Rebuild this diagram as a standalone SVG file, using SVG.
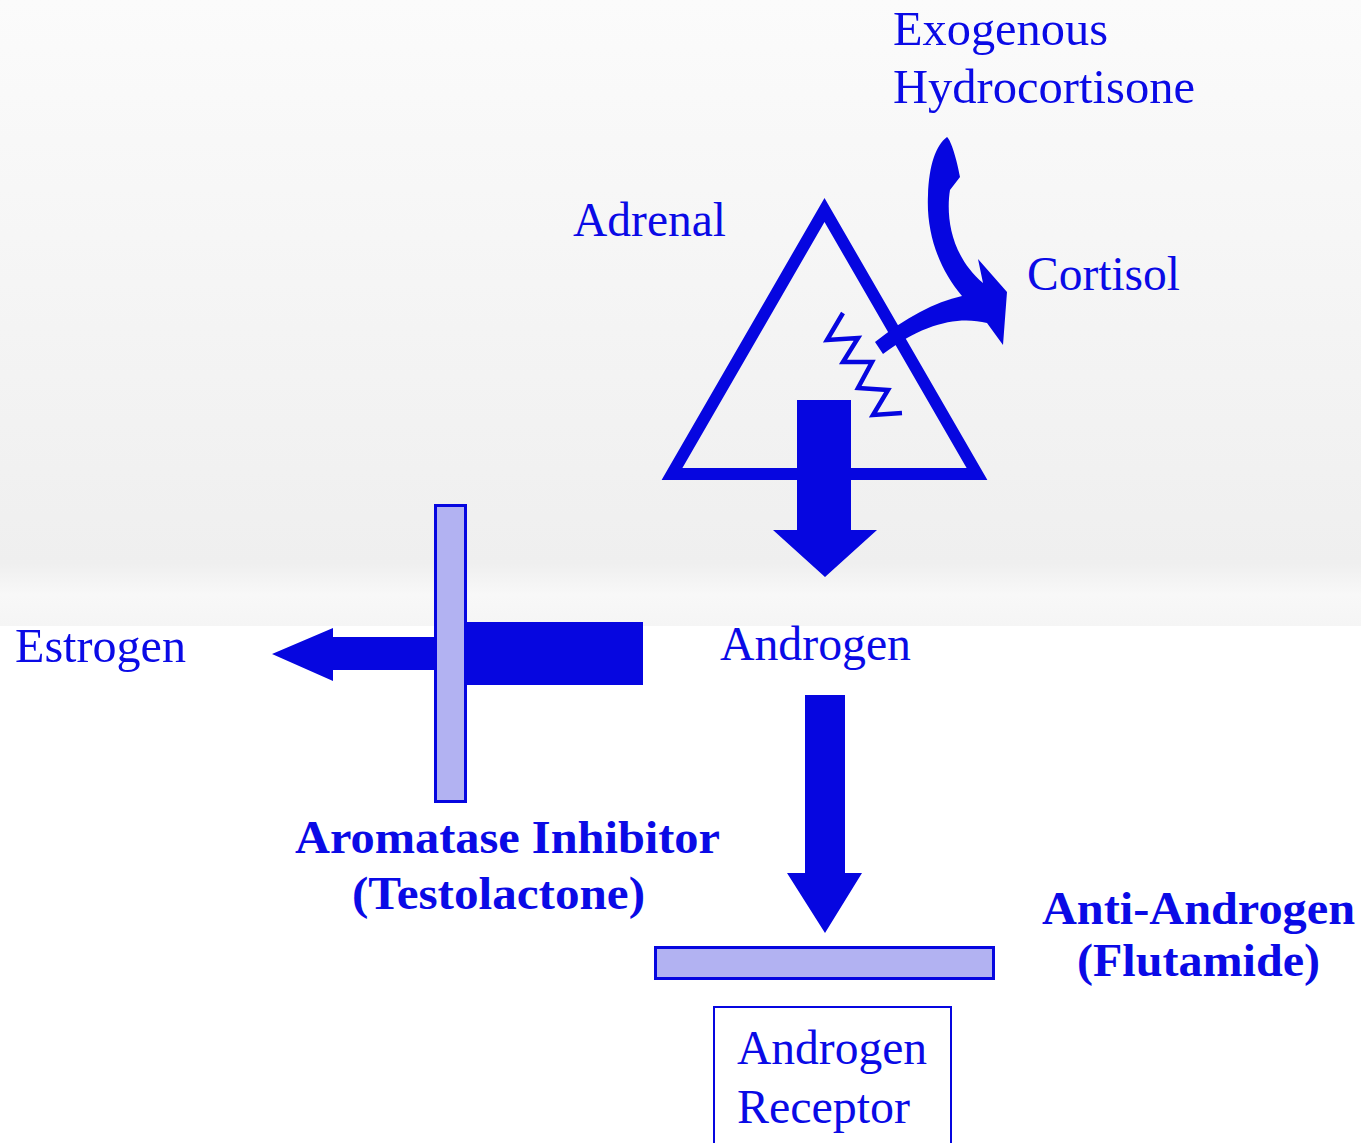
<svg xmlns="http://www.w3.org/2000/svg" width="1361" height="1143" viewBox="0 0 1361 1143">
<defs>
<linearGradient id="bg" x1="0" y1="0" x2="0" y2="1">
<stop offset="0" stop-color="#fbfbfb"/>
<stop offset="0.9" stop-color="#efefef"/>
<stop offset="0.95" stop-color="#f8f8f8"/>
<stop offset="1" stop-color="#f5f5f5"/>
</linearGradient>
<style>
.t{font-family:"Liberation Serif","Times New Roman",serif;font-size:48px;fill:#0a0ae6}
.b{font-family:"Liberation Serif","Times New Roman",serif;font-size:46px;font-weight:bold;fill:#0a0ae6}
.f{fill:#0606e0}
.bar{fill:#b2b2f2;stroke:#0606e0;stroke-width:3}
</style>
</defs>
<rect x="0" y="0" width="1361" height="1143" fill="#ffffff"/>
<rect x="0" y="0" width="1361" height="626" fill="url(#bg)"/>

<g id="exogenous">
<text class="t" x="893" y="45" textLength="215" lengthAdjust="spacingAndGlyphs">Exogenous</text>
<text class="t" x="893" y="103" textLength="302" lengthAdjust="spacingAndGlyphs">Hydrocortisone</text>
</g>
<g id="adrenal-label"><text class="t" x="573" y="236" textLength="153" lengthAdjust="spacingAndGlyphs">Adrenal</text></g>
<g id="cortisol"><text class="t" x="1027" y="290" textLength="153" lengthAdjust="spacingAndGlyphs">Cortisol</text></g>

<g id="adrenal">
<polygon points="824.5,210 977,474 672,474" fill="none" stroke="#0606e0" stroke-width="12" stroke-linejoin="miter"/>
<polyline points="843,313 827,340 858,338 843,362 872,362 858,388 888,390 873,415 902,413" fill="none" stroke="#0606e0" stroke-width="4.5" stroke-linejoin="miter"/>
</g>

<g id="estrogen"><text class="t" x="15" y="662" textLength="171" lengthAdjust="spacingAndGlyphs">Estrogen</text></g>
<g id="androgen"><text class="t" x="720" y="660" textLength="191" lengthAdjust="spacingAndGlyphs">Androgen</text></g>

<g id="connectors">
<path class="f" d="M947 137 C951 140,957 160,960 177 L950 190 C946 215,950 255,983 283 L978 259 L1007 292 L1003 345 L987 323 C960 316,925 322,883 354 L875 342 C905 318,935 302,962 296 C940 270,926 235,928 195 C929 165,936 145,947 137 Z"/>
<path class="f" d="M797 400 H851 V530 H877 L825 577 L773 530 H797 Z"/>
<path class="f" d="M643 622 V685 H467 V670 H333 V681 L272 654 L333 628 V637 H467 V622 Z"/>
<path class="f" d="M805 695 H845 V873 H862 L825 933 L787 873 H805 Z"/>
</g>

<g id="aromatase-inhibitor">
<rect class="bar" x="435.5" y="505.5" width="30" height="296"/>
<text class="b" x="295" y="853" textLength="425" lengthAdjust="spacingAndGlyphs">Aromatase Inhibitor</text>
<text class="b" x="352" y="909" textLength="293" lengthAdjust="spacingAndGlyphs">(Testolactone)</text>
</g>

<g id="anti-androgen">
<rect class="bar" x="655.5" y="947.5" width="338" height="31"/>
<text class="b" x="1042" y="924" textLength="313" lengthAdjust="spacingAndGlyphs">Anti-Androgen</text>
<text class="b" x="1077" y="976" textLength="243" lengthAdjust="spacingAndGlyphs">(Flutamide)</text>
</g>

<g id="androgen-receptor">
<rect x="714" y="1007" width="237" height="145" fill="#ffffff" stroke="#0606e0" stroke-width="2"/>
<text class="t" x="737" y="1064" textLength="190" lengthAdjust="spacingAndGlyphs">Androgen</text>
<text class="t" x="737" y="1123" textLength="173" lengthAdjust="spacingAndGlyphs">Receptor</text>
</g>
</svg>
